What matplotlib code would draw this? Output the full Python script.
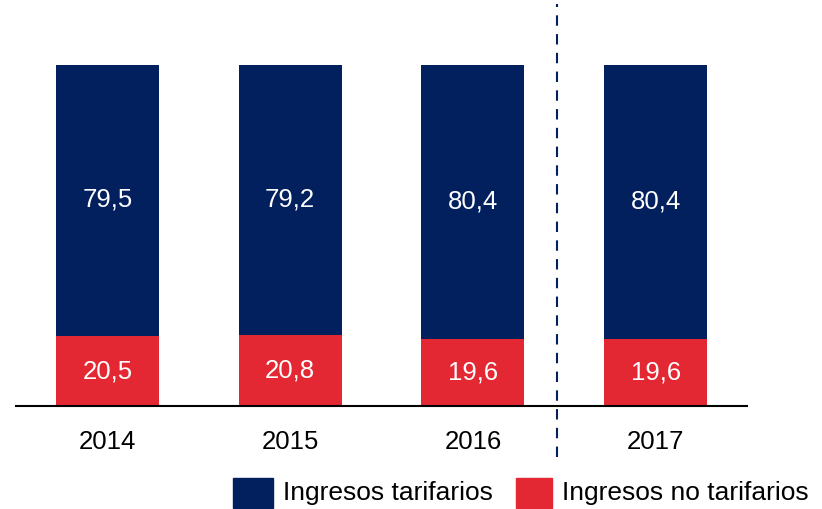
import matplotlib.pyplot as plt
from matplotlib.patches import Rectangle

plt.rcParams['font.family'] = ['Liberation Sans', 'DejaVu Sans']

years = ['2014', '2015', '2016', '2017']
tarifarios = [79.5, 79.2, 80.4, 80.4]
no_tarifarios = [20.5, 20.8, 19.6, 19.6]

BLUE = '#02205E'
RED = '#E32834'

W, H = 822, 509
fig = plt.figure(figsize=(W / 100, H / 100), dpi=100)
ax = fig.add_axes([16 / W, (H - 406) / H, (747 - 16) / W, 341 / H])

x = range(len(years))
ax.bar(x, no_tarifarios, width=0.563, color=RED)
ax.bar(x, tarifarios, width=0.563, bottom=no_tarifarios, color=BLUE)

def fmt(v):
    return f"{v:.1f}".replace('.', ',')

for i, (a, b) in enumerate(zip(no_tarifarios, tarifarios)):
    ax.text(i, a / 2, fmt(a), ha='center', va='center', color='white', fontsize=18.5)
    ax.text(i, a + b / 2 + 0.3, fmt(b), ha='center', va='center', color='white', fontsize=18.5)
    ax.text(i, -10.5, years[i], ha='center', va='center', color='black', fontsize=18.5)

ax.set_xlim(-0.5, 3.5)
ax.set_ylim(0, 100)
for s in ['top', 'right', 'left']:
    ax.spines[s].set_visible(False)
ax.spines['bottom'].set_linewidth(1.5)
ax.set_xticks([])
ax.set_yticks([])

ax.plot([2.462, 2.462], [-15, 118], color=BLUE, lw=1.5, ls=(0, (5, 4)), clip_on=False)

# legend
for x0, w, c, label in [(233, 40, BLUE, 'Ingresos tarifarios'),
                        (516, 36, RED, 'Ingresos no tarifarios')]:
    fig.patches.append(Rectangle((x0 / W, (H - 508) / H), w / W, 30 / H,
                                 transform=fig.transFigure, color=c))
    fig.text((x0 + w + 10) / W, (H - 493) / H, label, ha='left', va='center',
             fontsize=19, color='black')

fig.savefig('out.png', dpi=100)
